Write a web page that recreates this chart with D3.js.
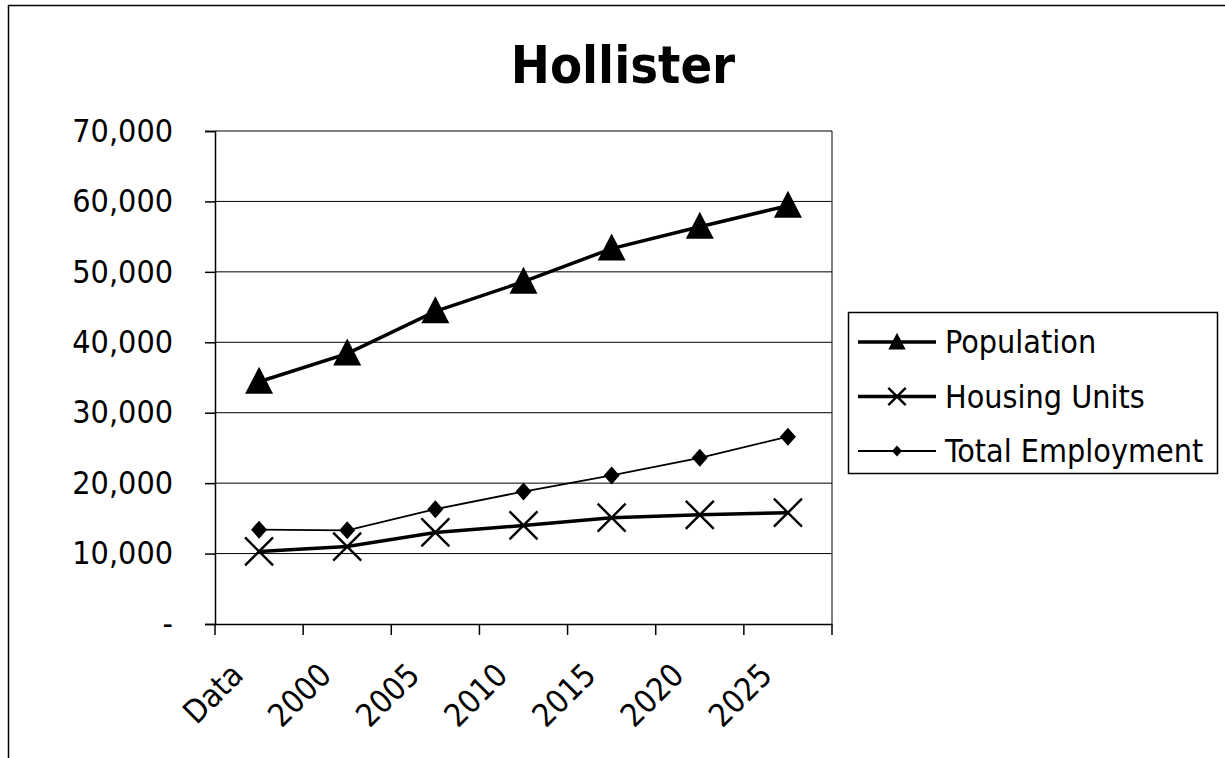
<!DOCTYPE html>
<html>
<head>
<meta charset="utf-8">
<script src="https://cdn.jsdelivr.net/npm/d3@7"></script>
<style>
  body { margin: 0; background: #fff; }
  text { font-family: "DejaVu Sans Condensed", "DejaVu Sans", sans-serif; fill: #000; }
</style>
</head>
<body>
<script>
const categories = ['Data', '2000', '2005', '2010', '2015', '2020', '2025'];
const population = [34400, 38400, 44400, 48600, 53300, 56400, 59400];
const housingUnits = [10300, 11000, 13000, 14000, 15100, 15500, 15800];
const totalEmployment = [13400, 13300, 16300, 18800, 21100, 23600, 26600];
const yTicks = [0, 10000, 20000, 30000, 40000, 50000, 60000, 70000];

const width = 1225;
const height = 758;

const plot = {left: 215, right: 832, top: 131, bottom: 624};

let svg = d3.select('body')
    .append('svg')
    .attr('width', width)
    .attr('height', height);

// chart area frame
svg.append('rect')
    .attr('x', 8.5)
    .attr('y', 5.5)
    .attr('width', width + 10)
    .attr('height', height + 10)
    .attr('fill', 'none')
    .attr('stroke', '#000')
    .attr('stroke-width', 1.5);

svg.append('text')
    .attr('x', 623)
    .attr('y', 83)
    .attr('text-anchor', 'middle')
    .style('font-size', '52px')
    .style('font-weight', 'bold')
    .text('Hollister');

let x = d3.scaleBand()
    .domain(categories)
    .range([plot.left, plot.right]);

let y = d3.scaleLinear()
    .domain([0, 70000])
    .range([plot.bottom, plot.top]);

// grid lines
svg.append('g')
    .selectAll('line')
    .data(yTicks.filter(d => d > 0))
    .enter()
    .append('line')
    .attr('x1', plot.left)
    .attr('x2', plot.right)
    .attr('y1', d => y(d))
    .attr('y2', d => y(d))
    .attr('stroke', '#000')
    .attr('stroke-width', 1);

svg.append('line')
    .attr('x1', plot.right)
    .attr('x2', plot.right)
    .attr('y1', plot.top)
    .attr('y2', plot.bottom)
    .attr('stroke', '#000')
    .attr('stroke-width', 1);

let fmt = d3.format(',');

let yAxis = svg.append('g')
    .attr('transform', `translate(${plot.left},0)`)
    .call(d3.axisLeft(y)
        .tickValues(yTicks)
        .tickSize(10)
        .tickPadding(32)
        .tickFormat(d => d === 0 ? '-' : fmt(d)));
yAxis.selectAll('text').style('font-size', '32px');
yAxis.selectAll('line, path').attr('stroke', '#000').attr('stroke-width', 1.5);

let xAxis = svg.append('g')
    .attr('transform', `translate(0,${plot.bottom})`)
    .call(d3.axisBottom(x).tickSize(0).tickFormat(''));
xAxis.select('path').attr('stroke', '#000').attr('stroke-width', 1.5);

// tick marks between categories
let edges = categories.map(c => x(c)).concat([plot.right]);
xAxis.selectAll('.edge')
    .data(edges)
    .enter()
    .append('line')
    .attr('x1', d => d)
    .attr('x2', d => d)
    .attr('y1', 0)
    .attr('y2', 11)
    .attr('stroke', '#000')
    .attr('stroke-width', 1.5);

const cx = d => x(d) + x.bandwidth() / 2;

xAxis.selectAll('.lbl')
    .data(categories)
    .enter()
    .append('text')
    .attr('text-anchor', 'end')
    .attr('transform', d => `translate(${cx(d) - 14},${53}) rotate(-45)`)
    .style('font-size', '32px')
    .text(d => d);

const series = [
    {name: 'Population', values: population, width: 3.5, marker: 'triangle'},
    {name: 'Housing Units', values: housingUnits, width: 3.5, marker: 'cross'},
    {name: 'Total Employment', values: totalEmployment, width: 1.8, marker: 'diamond'}
];

let lineGen = d3.line()
    .x((d, i) => cx(categories[i]))
    .y(d => y(d));

function drawMarker(sel, type, k) {
    if (type === 'triangle') {
        sel.append('path')
            .attr('d', `M0,${-15 * k} L${14 * k},${12 * k} L${-14 * k},${12 * k} Z`)
            .attr('fill', '#000');
    } else if (type === 'cross') {
        let r = 14 * k;
        sel.append('path')
            .attr('d', `M${-r},${-r} L${r},${r} M${-r},${r} L${r},${-r}`)
            .attr('stroke', '#000')
            .attr('stroke-width', 2.4)
            .attr('fill', 'none');
    } else {
        sel.append('path')
            .attr('d', `M0,${-9 * k} L${8 * k},0 L0,${9 * k} L${-8 * k},0 Z`)
            .attr('fill', '#000');
    }
}

series.forEach(s => {
    svg.append('path')
        .datum(s.values)
        .attr('d', lineGen)
        .attr('fill', 'none')
        .attr('stroke', '#000')
        .attr('stroke-width', s.width);
    svg.append('g')
        .selectAll('g')
        .data(s.values)
        .enter()
        .append('g')
        .attr('transform', (d, i) => `translate(${cx(categories[i])},${y(d)})`)
        .each(function() { drawMarker(d3.select(this), s.marker, 1); });
});

// legend
let legend = svg.append('g');
legend.append('rect')
    .attr('x', 848.5)
    .attr('y', 312.5)
    .attr('width', 369)
    .attr('height', 161)
    .attr('fill', '#fff')
    .attr('stroke', '#000')
    .attr('stroke-width', 1.5);

series.forEach((s, i) => {
    let ly = 342 + i * 54.5;
    let item = legend.append('g');
    item.append('line')
        .attr('x1', 858)
        .attr('x2', 936)
        .attr('y1', ly)
        .attr('y2', ly)
        .attr('stroke', '#000')
        .attr('stroke-width', s.width);
    let m = item.append('g').attr('transform', `translate(897,${ly})`);
    drawMarker(m, s.marker, 0.62);
    item.append('text')
        .attr('x', 945)
        .attr('y', ly + 11)
        .style('font-size', '32px')
        .text(s.name);
});
</script>
</body>
</html>
